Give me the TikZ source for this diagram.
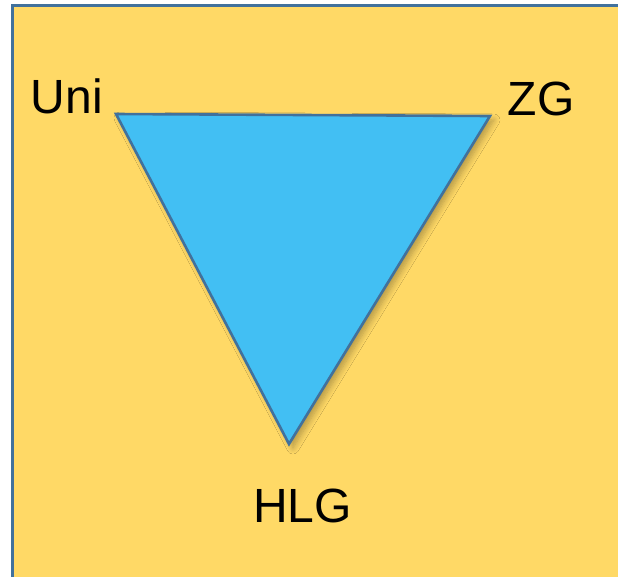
\documentclass[tikz,border=0pt]{standalone}
\usepackage{fontspec}
\setmainfont{Liberation Sans}
\usetikzlibrary{shadows.blur}
\definecolor{bggold}{HTML}{FFD966}
\definecolor{edgeblue}{HTML}{41719C}
\definecolor{fillblue}{HTML}{42BFF3}
\tikzset{
  label text/.style={font=\fontsize{48}{56}\selectfont, anchor=base, inner sep=0pt},
  tri/.style={fill=fillblue, draw=edgeblue, line width=2.6pt, line join=miter,
    blur shadow={shadow xshift=4pt, shadow yshift=-4pt, shadow blur steps=8, shadow opacity=30, shadow blur radius=6pt}}
}
\begin{document}
\begin{tikzpicture}[x=1pt,y=-1pt]
\useasboundingbox (0,0) rectangle (618,576);
\fill[white] (0,0) rectangle (618,576);
\fill[bggold] (12,5) rectangle (640,600);
\draw[edgeblue, line width=3pt] (12,600) -- (12,5) -- (640,5);
\coordinate (A) at (116,114);
\coordinate (B) at (490,116);
\coordinate (C) at (289,444);
\path[tri] (A) -- (B) -- (C) -- cycle;
\node[label text] (uni) at (67,113) {Uni};
\node[label text] (zg) at (541,115) {ZG};
\node[label text] (hlg) at (302.5,522) {HLG};
\end{tikzpicture}
\end{document}
